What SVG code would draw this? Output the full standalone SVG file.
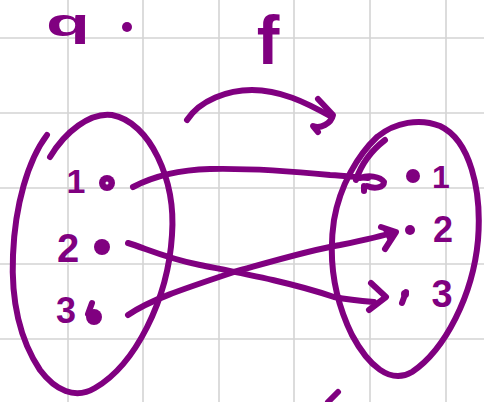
<svg xmlns="http://www.w3.org/2000/svg" width="484" height="402" viewBox="0 0 484 402">
<style>
.grid{stroke:#d4d4d4;stroke-width:1.6;fill:none}
.ink{stroke:#800080;stroke-width:6;fill:none;stroke-linecap:round;stroke-linejoin:round}
.dot{fill:#800080}
.lbl{font-family:"Liberation Sans",Arial,sans-serif;font-weight:bold;fill:#800080;text-anchor:middle}
</style>
<rect width="484" height="402" fill="#ffffff"/>
<g id="grid">
<path class="grid" d="M68,0V402M143,0V402M219,0V402M294,0V402M370,0V402M446,0V402M0,38H484M0,113H484M0,188H484M0,264H484M0,339H484"/>
</g>
<g id="title">
<text class="lbl" x="68" y="36" font-size="39" textLength="44" lengthAdjust="spacingAndGlyphs">q</text>
<circle class="dot" cx="127" cy="27" r="5"/>
</g>
<g id="label-f">
<text class="lbl" x="268" y="64" font-size="68" font-weight="normal">f</text>
</g>
<g id="set-left">
<path class="ink" d="M50,157 C65,132 90,112 112,115 C150,122 176,180 172,235 C168,300 135,365 95,388 C75,400 55,390 40,370 C20,340 11,300 13,255 C15,205 28,160 47,135"/>
</g>
<g id="set-right">
<path class="ink" d="M377,137 C395,122 420,118 440,126 C470,140 482,190 478,240 C473,295 445,350 412,372 C390,385 368,365 352,335 C335,300 328,260 334,220 C340,185 358,155 377,137"/>
<path class="ink" d="M385,140 C372,150 362,162 356,180" stroke-width="8"/>
</g>
<g id="node-left-1">
<text class="lbl" x="76" y="193" font-size="34">1</text>
<circle class="dot" cx="107" cy="183" r="8"/>
<circle cx="107" cy="183" r="1.5" fill="#fff"/>
</g>
<g id="node-left-2">
<text class="lbl" x="68" y="262" font-size="40">2</text>
<circle class="dot" cx="102" cy="247" r="8"/>
</g>
<g id="node-left-3">
<text class="lbl" x="66" y="323" font-size="36">3</text>
<circle class="dot" cx="94" cy="317" r="8"/>
<path class="ink" d="M88,314 L92,303" stroke-width="5"/>
</g>
<g id="node-right-1">
<circle class="dot" cx="413" cy="176" r="7"/>
<text class="lbl" x="441" y="188" font-size="32">1</text>
</g>
<g id="node-right-2">
<circle class="dot" cx="410" cy="230" r="5"/>
<text class="lbl" x="443" y="242" font-size="36">2</text>
</g>
<g id="node-right-3">
<circle class="dot" cx="405" cy="294" r="4"/>
<path class="ink" d="M406,292 L402,303" stroke-width="5"/>
<text class="lbl" x="442" y="307" font-size="38">3</text>
</g>
<g id="connectors">
<path class="ink" d="M187,120 C200,100 228,90 252,90 C280,90 305,102 330,116"/>
<path class="ink" d="M318,99 L333,115 C331,124 320,129 313,126 L318,132"/>
<path class="ink" d="M133,187 C150,178 175,170 210,169 C260,168 300,172 330,175 C345,176 355,177 368,178"/>
<path class="ink" d="M360,178 C368,175 380,176 384,182 C384,188 374,189 367,186 M364,186 L364,191"/>
<path class="ink" d="M128,243 C145,248 165,258 200,265 C240,273 290,282 334,297 C350,300 362,301 374,302"/>
<path class="ink" d="M371,283 L386,297 L369,310"/>
<path class="ink" d="M128,315 C150,300 180,290 234,272 C270,262 310,250 340,245 C360,241 380,237 394,232"/>
<path class="ink" d="M381,227 L396,232 L385,249"/>
<path class="dot" d="M382,228 L397,232 L388,241 Z"/>
<path class="ink" d="M328,402 L338,392"/>
</g>
</svg>
